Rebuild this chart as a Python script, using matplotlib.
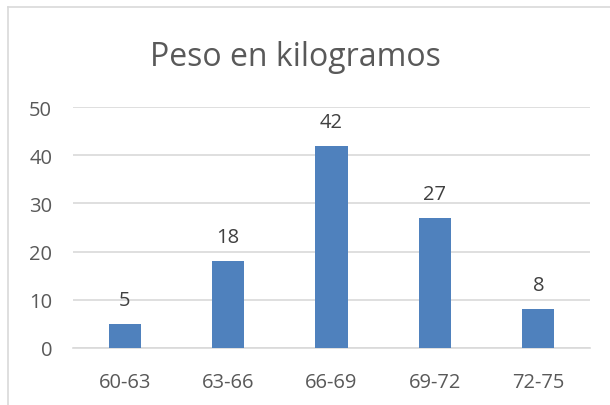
import matplotlib.pyplot as plt
from matplotlib.lines import Line2D

plt.rcParams['font.family'] = ['Open Sans', 'DejaVu Sans']

rangos = ['60-63', '63-66', '66-69', '69-72', '72-75']
frecuencias = [5, 18, 42, 27, 8]
ticks_y = [0, 10, 20, 30, 40, 50]

gris = '#595959'

fig = plt.figure(figsize=(6.10, 4.06), dpi=100)
ax = fig.add_axes([73 / 610, 1 - 349 / 406, 517 / 610, 241 / 406])

x = range(len(rangos))
barras = ax.bar(x, frecuencias, width=0.31, color='#4F81BD', zorder=3)
for b, v in zip(barras, frecuencias):
    ax.text(b.get_x() + b.get_width() / 2, v + 2.9, str(v),
            ha='center', va='bottom', fontsize=14.5, color='#404040')

ax.set_xlim(-0.5, len(rangos) - 0.5)
ax.set_ylim(0, 50)
ax.set_yticks(ticks_y)
ax.set_xticks(list(x))
ax.set_xticklabels(rangos)
ax.yaxis.grid(True, color='#D9D9D9', linewidth=1.2, zorder=0)
for s in ax.spines.values():
    s.set_visible(False)
ax.spines['bottom'].set_visible(True)
ax.spines['bottom'].set_color('#D9D9D9')
ax.spines['bottom'].set_linewidth(1.2)
ax.tick_params(axis='both', length=0, labelsize=14.5, labelcolor=gris)
ax.tick_params(axis='y', pad=15)
ax.tick_params(axis='x', pad=17)

fig.text(295 / 610, 1 - 58 / 406, 'Peso en kilogramos', ha='center', va='center',
         fontsize=23, color=gris)

# marco del grafico (solo arriba e izquierda visibles)
fig.add_artist(Line2D([8 / 610, 1], [1 - 8 / 406, 1 - 8 / 406],
                      transform=fig.transFigure, color='#D9D9D9', linewidth=1.2))
fig.add_artist(Line2D([8 / 610, 8 / 610], [0, 1 - 8 / 406],
                      transform=fig.transFigure, color='#D9D9D9', linewidth=1.2))

plt.savefig('out.png', dpi=100)
